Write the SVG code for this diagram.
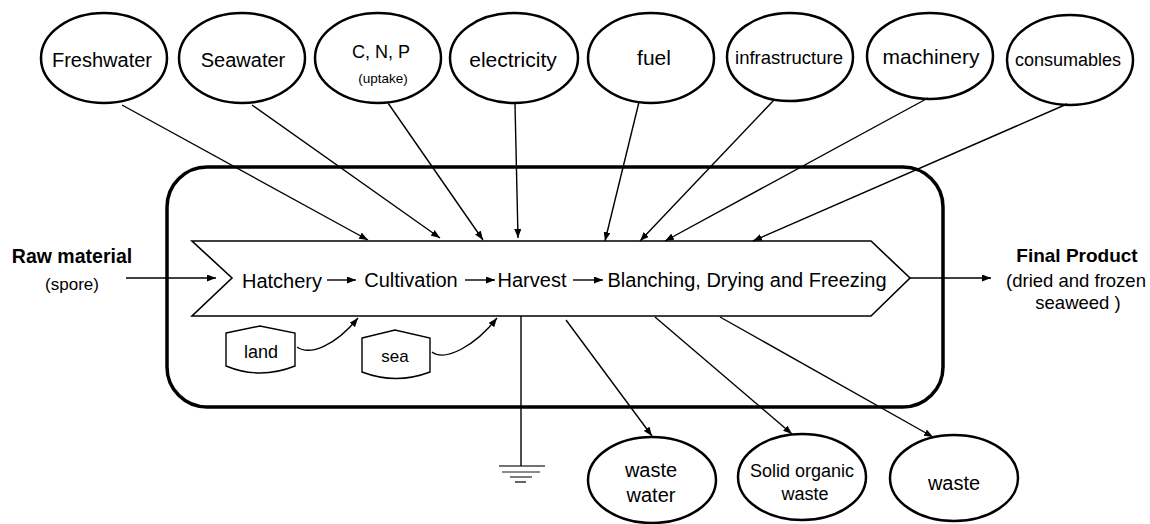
<svg xmlns="http://www.w3.org/2000/svg" width="1150" height="524" viewBox="0 0 1150 524">
<defs>
<marker id="ah" markerWidth="9" markerHeight="7" refX="9" refY="3.5" orient="auto" markerUnits="userSpaceOnUse"><path d="M0,0 L9,3.5 L0,7 z" fill="#000"/></marker>
<style>
text{font-family:"Liberation Sans",Arial,sans-serif;fill:#000;text-anchor:middle}
.ell{fill:#fff;stroke:#000;stroke-width:2.5}
.con{stroke:#000;stroke-width:1.4;fill:none}
.arr{marker-end:url(#ah)}
.store{fill:#fff;stroke:#000;stroke-width:1.4}
.b{font-weight:bold}
</style>
</defs>
<rect width="1150" height="524" fill="#fff"/>
<g id="system">
<rect x="167" y="167" width="776" height="240" rx="40" fill="none" stroke="#000" stroke-width="3.5"/>
</g>
<g id="process">
<polygon points="192,241 871,241 910,278 871,316 192,316 232,278" fill="#fff" stroke="#000" stroke-width="1.6"/>
<text x="282" y="288" font-size="20">Hatchery</text>
<text x="411" y="287" font-size="20">Cultivation</text>
<text x="532" y="287" font-size="20">Harvest</text>
<text x="747" y="287" font-size="20">Blanching, Drying and Freezing</text>
</g>
<g id="land">
<path class="store" d="M226,333 L260,326 L295,333 L295,366 Q260,380 226,366 Z"/>
<text x="261" y="358" font-size="18">land</text>
</g>
<g id="sea">
<path class="store" d="M362,338 L395,330 L430,338 L430,372 Q396,385 362,372 Z"/>
<text x="395" y="362" font-size="17">sea</text>
</g>
<g id="raw">
<text class="b" x="72" y="263" font-size="19.5">Raw material</text>
<text x="72" y="290" font-size="17">(spore)</text>
</g>
<g id="final">
<text class="b" x="1077" y="262" font-size="19">Final Product</text>
<text x="1076" y="287" font-size="18.5">(dried and frozen</text>
<text x="1078" y="309" font-size="18.5">seaweed )</text>
</g>
<g id="freshwater"><ellipse class="ell" cx="104" cy="58" rx="63" ry="45"/><text x="102" y="67" font-size="20">Freshwater</text></g>
<g id="seawater"><ellipse class="ell" cx="242" cy="58" rx="63" ry="45"/><text x="243" y="67" font-size="20">Seawater</text></g>
<g id="cnp"><ellipse class="ell" cx="378" cy="58" rx="63" ry="45"/><text x="381" y="58" font-size="18">C, N, P</text><text x="383" y="83" font-size="13.5">(uptake)</text></g>
<g id="electricity"><ellipse class="ell" cx="514" cy="58" rx="64" ry="45"/><text x="513" y="67" font-size="21">electricity</text></g>
<g id="fuel"><ellipse class="ell" cx="651" cy="58" rx="63" ry="45"/><text x="654" y="65" font-size="21">fuel</text></g>
<g id="infrastructure"><ellipse class="ell" cx="790" cy="57" rx="63" ry="44"/><text x="789" y="64" font-size="18.5">infrastructure</text></g>
<g id="machinery"><ellipse class="ell" cx="930" cy="56" rx="63" ry="43"/><text x="931" y="64" font-size="21">machinery</text></g>
<g id="consumables"><ellipse class="ell" cx="1070" cy="60" rx="63" ry="45"/><text x="1068" y="66" font-size="18">consumables</text></g>
<g id="wastewater"><ellipse class="ell" cx="652" cy="480" rx="64" ry="43"/><text x="651" y="477" font-size="20">waste</text><text x="651" y="502" font-size="20">water</text></g>
<g id="solidwaste"><ellipse class="ell" cx="802" cy="477" rx="64" ry="43"/><text x="802" y="477" font-size="18">Solid organic</text><text x="805" y="500" font-size="18">waste</text></g>
<g id="waste"><ellipse class="ell" cx="954" cy="478" rx="64" ry="43"/><text x="954" y="490" font-size="20">waste</text></g>
<g id="ground">
<line x1="499" y1="466" x2="545" y2="466" stroke="#444" stroke-width="1.6"/>
<line x1="502" y1="472" x2="540" y2="472" stroke="#666" stroke-width="1.4"/>
<line x1="510" y1="477" x2="532" y2="477" stroke="#444" stroke-width="1.4"/>
<line x1="515" y1="482" x2="526" y2="482" stroke="#222" stroke-width="1.4"/>
</g>
<g id="connectors">
<line class="con arr" x1="126" y1="278" x2="216" y2="278"/>
<line class="con arr" x1="910" y1="278" x2="991" y2="278"/>
<line class="con arr" x1="327" y1="280" x2="356" y2="280"/>
<line class="con arr" x1="465" y1="280" x2="495" y2="280"/>
<line class="con arr" x1="573" y1="280" x2="603" y2="280"/>
<line class="con arr" x1="122" y1="105" x2="368" y2="240"/>
<line class="con arr" x1="252" y1="105" x2="440" y2="238"/>
<line class="con arr" x1="388" y1="103" x2="483" y2="240"/>
<line class="con arr" x1="515" y1="104" x2="518" y2="238"/>
<line class="con arr" x1="639" y1="102" x2="605" y2="241"/>
<line class="con arr" x1="774" y1="100" x2="640" y2="241"/>
<line class="con arr" x1="928" y1="98" x2="665" y2="241"/>
<line class="con arr" x1="1067" y1="104" x2="753" y2="241"/>
<path class="con arr" d="M297,347 C310,356 335,346 358,318" stroke-width="2"/>
<path class="con arr" d="M432,352 C445,362 475,346 497,318" stroke-width="2"/>
<line class="con" x1="521" y1="316" x2="521" y2="466" stroke-width="1.8"/>
<line class="con arr" x1="566" y1="320" x2="652" y2="436"/>
<line class="con arr" x1="655" y1="317" x2="792" y2="434"/>
<line class="con arr" x1="720" y1="317" x2="933" y2="437"/>
</g>
</svg>
